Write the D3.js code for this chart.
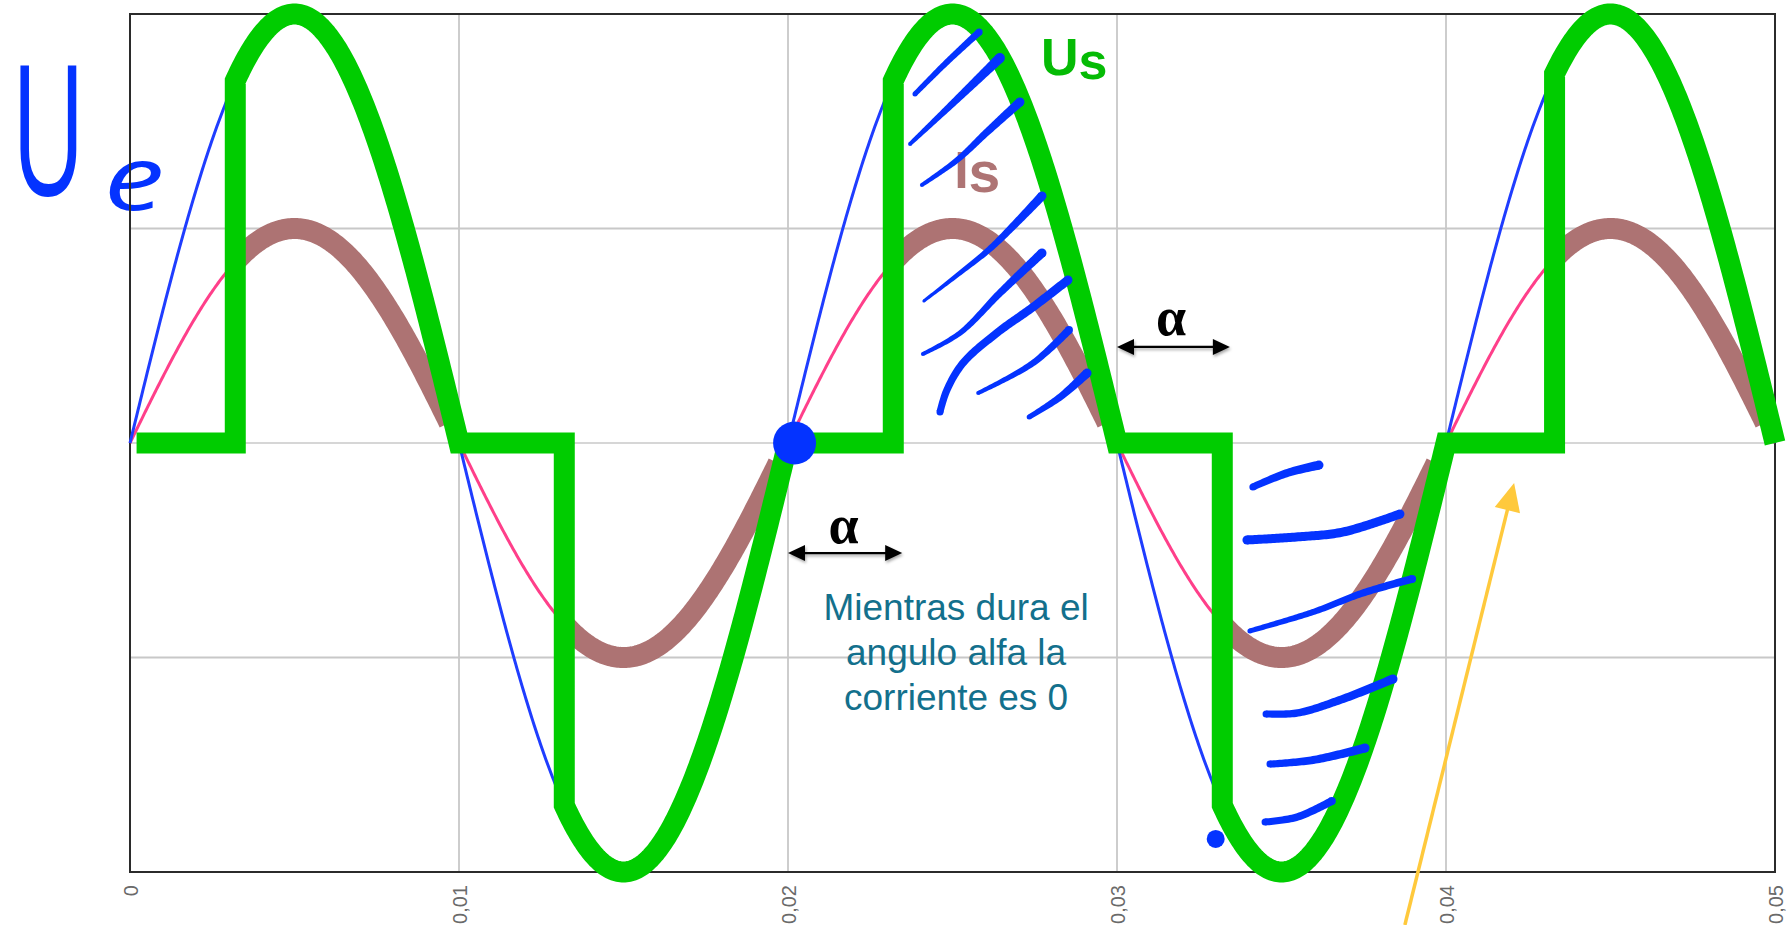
<!DOCTYPE html>
<html>
<head>
<meta charset="utf-8">
<script src="https://cdn.jsdelivr.net/npm/d3@7"></script>
<style>
  html, body { margin: 0; padding: 0; background: #ffffff; }
  svg { display: block; }
</style>
</head>
<body>
<svg id="chart" width="1789" height="925"></svg>
<script>
// ---- Waveform data (phase-controlled AC, 50 Hz) ----
const timeTicks = [0, 0.01, 0.02, 0.03, 0.04, 0.05];
const tickLabels = ["0", "0,01", "0,02", "0,03", "0,04", "0,05"];
const valueGridlines = [-1, 0, 1];
const frequencyHz = 50;
const inputVoltagePeak = 2;      // Ue (thin blue)
const naturalCurrentPeak = 1;    // full-wave current (thin pink)
const outputVoltagePeak = 2;     // Us (thick green)
const outputCurrentPeak = 1;     // Is (thick brown)
const zeroCrossings = [0, 0.01, 0.02, 0.03, 0.04, 0.05];
const firingTimes = [0.0032, 0.0132, 0.0232, 0.0332, 0.0433];
const currentEndTimes = [0.0097, 0.0197, 0.0297, 0.0397, 0.0497];
const usStartTime = 0.0002;

// hand-drawn hatching strokes [t, value] with start/end widths
const hatchStrokes = [
  { w: [5, 7], pts: [[0.02386, 1.627], [0.02483, 1.776], [0.02581, 1.916]] },
  { w: [4, 10], pts: [[0.02371, 1.394], [0.02502, 1.585], [0.02644, 1.795]] },
  { w: [4, 9], pts: [[0.02407, 1.203], [0.02514, 1.319], [0.02605, 1.450], [0.02705, 1.590]] },
  { w: [3, 9], pts: [[0.02413, 0.662], [0.02523, 0.793], [0.02620, 0.914], [0.02772, 1.152]] },
  { w: [4, 9], pts: [[0.02410, 0.415], [0.02523, 0.513], [0.02644, 0.699], [0.02772, 0.886]] },
  { w: [7, 9], pts: [[0.02462, 0.145], [0.02483, 0.247], [0.02532, 0.373], [0.02635, 0.513], [0.02745, 0.634], [0.02851, 0.760]] },
  { w: [4, 8], pts: [[0.02578, 0.233], [0.02745, 0.373], [0.02854, 0.527]] },
  { w: [5, 9], pts: [[0.02733, 0.121], [0.02827, 0.214], [0.02909, 0.326]] },
  { w: [7, 9], pts: [[0.03413, -0.205], [0.03517, -0.140], [0.03614, -0.103]] },
  { w: [9, 9], pts: [[0.03395, -0.452], [0.03547, -0.438], [0.03687, -0.415], [0.03860, -0.331]] },
  { w: [5, 8], pts: [[0.03404, -0.876], [0.03596, -0.788], [0.03748, -0.699], [0.03897, -0.634]] },
  { w: [7, 9], pts: [[0.03453, -1.263], [0.03547, -1.259], [0.03678, -1.198], [0.03839, -1.100]] },
  { w: [7, 9], pts: [[0.03465, -1.497], [0.03596, -1.478], [0.03754, -1.422]] },
  { w: [7, 8], pts: [[0.03450, -1.767], [0.03547, -1.744], [0.03653, -1.669]] }
];
const markerDots = [
  { t: 0.0202, v: 0, r: 21.5 },
  { t: 0.0330, v: -1.846, r: 9 }
];
const alphaArrows = [
  { t0: 0.0200, t1: 0.02347, v: -0.513, labelT: 0.02169, labelV: -0.466 },
  { t0: 0.0300, t1: 0.03343, v: 0.448, labelT: 0.03164, labelV: 0.503 }
];
const noteLines = ["Mientras dura el", "angulo alfa la", "corriente es 0"];
const noteAnchor = { t: 0.02511, v: [-0.825, -1.035, -1.245] };
const pointerArrow = { from: [0.03875, -2.247], to: [0.04207, -0.186] };

// ---- Colours ----
const colUe = "#1f3dff";
const colIe = "#ff3f8a";
const colUs = "#00cc00";
const colIs = "#ad7373";
const colInk = "#0433ff";

const svg = d3.select("#chart");
const x = d3.scaleLinear().domain([0, 0.05]).range([130, 1775]);
const y = d3.scaleLinear().domain([-2, 2]).range([872, 14]);
const line = d3.line().x(d => x(d[0])).y(d => y(d[1]));

function wave(peak, t0, t1) {
  const n = Math.max(2, Math.ceil((t1 - t0) / 0.00004));
  return d3.range(n + 1).map(i => {
    const t = t0 + (t1 - t0) * i / n;
    return [t, peak * Math.sin(2 * Math.PI * frequencyHz * t)];
  });
}

const defs = svg.append("defs");
const shadow = defs.append("filter").attr("id", "soft-shadow")
  .attr("x", "-20%").attr("y", "-50%").attr("width", "140%").attr("height", "200%");
shadow.append("feDropShadow").attr("dx", 1).attr("dy", 2)
  .attr("stdDeviation", 1.6).attr("flood-color", "#000").attr("flood-opacity", 0.35);

// ---- Grid ----
const grid = svg.append("g");
grid.selectAll("line.v").data(timeTicks.slice(1, -1)).join("line")
  .attr("x1", d => x(d)).attr("x2", d => x(d))
  .attr("y1", y(2)).attr("y2", y(-2))
  .attr("stroke", "#cdcdcd").attr("stroke-width", 2);
grid.selectAll("line.h").data(valueGridlines).join("line")
  .attr("x1", x(0)).attr("x2", x(0.05))
  .attr("y1", d => y(d)).attr("y2", d => y(d))
  .attr("stroke", d => d === 0 ? "#d6d6d6" : "#c8c8c8").attr("stroke-width", 2);

// ---- Handwritten "Ue" ----
svg.append("text").text("U")
  .attr("transform", "translate(48.5,195) scale(0.56,1)")
  .attr("text-anchor", "middle")
  .attr("font-family", "'Open Sans', 'DejaVu Sans', sans-serif")
  .attr("font-weight", 400).attr("font-size", 182)
  .attr("fill", colInk);
svg.append("text").text("e")
  .attr("transform", "translate(134,210) scale(1.35,1)")
  .attr("text-anchor", "middle")
  .attr("font-family", "'Open Sans', 'DejaVu Sans', sans-serif")
  .attr("font-style", "italic").attr("font-weight", 500).attr("font-size", 90)
  .attr("fill", colInk);

// ---- Frame ----
svg.append("rect")
  .attr("x", x(0)).attr("y", y(2))
  .attr("width", x(0.05) - x(0)).attr("height", y(-2) - y(2))
  .attr("fill", "none").attr("stroke", "#2b2b2b").attr("stroke-width", 2);

// ---- X axis labels ----
const xAxis = d3.axisBottom(x).tickValues(timeTicks)
  .tickFormat((d, i) => tickLabels[i]).tickSize(0).tickPadding(0);
const axisG = svg.append("g").attr("transform", `translate(0,${y(-2)})`).call(xAxis);
axisG.select(".domain").remove();
axisG.selectAll("text")
  .attr("transform", "rotate(-90)")
  .attr("text-anchor", "end")
  .attr("x", -13).attr("y", 0).attr("dy", "0.35em")
  .attr("fill", "#6a6a6a")
  .attr("font-family", "'Liberation Sans', Arial, sans-serif")
  .attr("font-size", 20);

// ---- Curves ----
const curves = svg.append("g").attr("fill", "none");
curves.append("path").attr("d", line(wave(naturalCurrentPeak, 0, 0.05)))
  .attr("stroke", colIe).attr("stroke-width", 3);
curves.append("path").attr("d", line(wave(inputVoltagePeak, 0, 0.05)))
  .attr("stroke", colUe).attr("stroke-width", 3);

firingTimes.forEach((tf, k) => {
  curves.append("path").attr("d", line(wave(outputCurrentPeak, tf, currentEndTimes[k])))
    .attr("stroke", colIs).attr("stroke-width", 21).attr("stroke-linecap", "butt");
});

let usPoints = [];
firingTimes.forEach((tf, k) => {
  const t0 = k === 0 ? usStartTime : zeroCrossings[k];
  usPoints.push([t0, 0], [tf, 0]);
  usPoints = usPoints.concat(wave(outputVoltagePeak, tf, zeroCrossings[k + 1]));
});
curves.append("path").attr("d", line(usPoints))
  .attr("stroke", colUs).attr("stroke-width", 21)
  .attr("stroke-linejoin", "miter").attr("stroke-miterlimit", 3)
  .attr("stroke-linecap", "butt");

// ---- Labels Us / Is ----
const usLabel = svg.append("text")
  .attr("x", x(0.02769)).attr("y", y(1.716))
  .attr("font-family", "'Liberation Sans', Arial, sans-serif")
  .attr("font-weight", "bold").attr("font-size", 52).attr("fill", "#05bb05");
usLabel.append("tspan").text("U");
usLabel.append("tspan").attr("dy", 4).text("s");

const isLabel = svg.append("text")
  .attr("x", x(0.02505)).attr("y", y(1.189))
  .attr("font-family", "'Liberation Sans', Arial, sans-serif")
  .attr("font-weight", "bold").attr("font-size", 52).attr("fill", "#ae7474");
isLabel.append("tspan").text("I");
isLabel.append("tspan").attr("dy", 4).attr("font-size", 57).text("s");

// ---- Hand-drawn hatching ----
const smooth = d3.line().curve(d3.curveCatmullRom.alpha(0.5));
const hatchG = svg.append("g").attr("fill", colInk);
hatchStrokes.forEach(s => {
  const px = s.pts.map(p => [x(p[0]), y(p[1])]);
  const tmp = svg.append("path").attr("d", smooth(px)).attr("fill", "none");
  const node = tmp.node();
  const L = node.getTotalLength();
  const N = Math.max(10, Math.ceil(L / 2));
  const sm = d3.range(N + 1).map(i => node.getPointAtLength(L * i / N));
  tmp.remove();
  const left = [], right = [];
  sm.forEach((p, i) => {
    const a = sm[Math.max(0, i - 1)], b = sm[Math.min(N, i + 1)];
    const dx = b.x - a.x, dy = b.y - a.y, len = Math.hypot(dx, dy) || 1;
    const nx = -dy / len, ny = dx / len;
    const f = i / N;
    const hw = (s.w[0] + (s.w[1] - s.w[0]) * f) / 2;
    left.push([p.x + nx * hw, p.y + ny * hw]);
    right.push([p.x - nx * hw, p.y - ny * hw]);
  });
  hatchG.append("path").attr("d", "M" + left.concat(right.reverse()).join("L") + "Z");
  hatchG.append("circle").attr("cx", sm[0].x).attr("cy", sm[0].y).attr("r", s.w[0] / 2);
  hatchG.append("circle").attr("cx", sm[N].x).attr("cy", sm[N].y).attr("r", s.w[1] / 2);
});

// ---- Marker dots ----
svg.append("g").selectAll("circle").data(markerDots).join("circle")
  .attr("cx", d => x(d.t)).attr("cy", d => y(d.v)).attr("r", d => d.r)
  .attr("fill", colInk);

// ---- Alpha arrows ----
const arrowG = svg.append("g").attr("filter", "url(#soft-shadow)");
alphaArrows.forEach(a => {
  const xa = x(a.t0), xb = x(a.t1), yy = y(a.v);
  const hl = 17, hw = 8;
  arrowG.append("line").attr("x1", xa + hl - 2).attr("x2", xb - hl + 2)
    .attr("y1", yy).attr("y2", yy).attr("stroke", "#000").attr("stroke-width", 2.2);
  arrowG.append("path").attr("fill", "#000")
    .attr("d", `M${xa},${yy}L${xa + hl},${yy - hw}L${xa + hl},${yy + hw}Z`);
  arrowG.append("path").attr("fill", "#000")
    .attr("d", `M${xb},${yy}L${xb - hl},${yy - hw}L${xb - hl},${yy + hw}Z`);
  svg.append("text").text("α")
    .attr("x", x(a.labelT)).attr("y", y(a.labelV))
    .attr("text-anchor", "middle")
    .attr("font-family", "'Liberation Serif', 'Times New Roman', serif")
    .attr("font-weight", "bold").attr("font-size", 54).attr("fill", "#000");
});

// ---- Note ----
svg.append("g").selectAll("text").data(noteLines).join("text")
  .text(d => d)
  .attr("x", x(noteAnchor.t)).attr("y", (d, i) => y(noteAnchor.v[i]))
  .attr("text-anchor", "middle")
  .attr("font-family", "'Liberation Sans', Arial, sans-serif")
  .attr("font-size", 37).attr("fill", "#13708c");

// ---- Yellow pointer ----
{
  const x0 = x(pointerArrow.from[0]), y0 = y(pointerArrow.from[1]);
  const x1 = x(pointerArrow.to[0]), y1 = y(pointerArrow.to[1]);
  const dx = x1 - x0, dy = y1 - y0, len = Math.hypot(dx, dy);
  const ux = dx / len, uy = dy / len, nx = -uy, ny = ux;
  const hl = 28, hw = 13;
  const bx = x1 - ux * hl, by = y1 - uy * hl;
  svg.append("line").attr("x1", x0).attr("y1", y0).attr("x2", bx + ux * 2).attr("y2", by + uy * 2)
    .attr("stroke", "#ffc93c").attr("stroke-width", 3.5);
  svg.append("path").attr("fill", "#ffc93c")
    .attr("d", `M${x1},${y1}L${bx + nx * hw},${by + ny * hw}L${bx - nx * hw},${by - ny * hw}Z`);
}
</script>
</body>
</html>
